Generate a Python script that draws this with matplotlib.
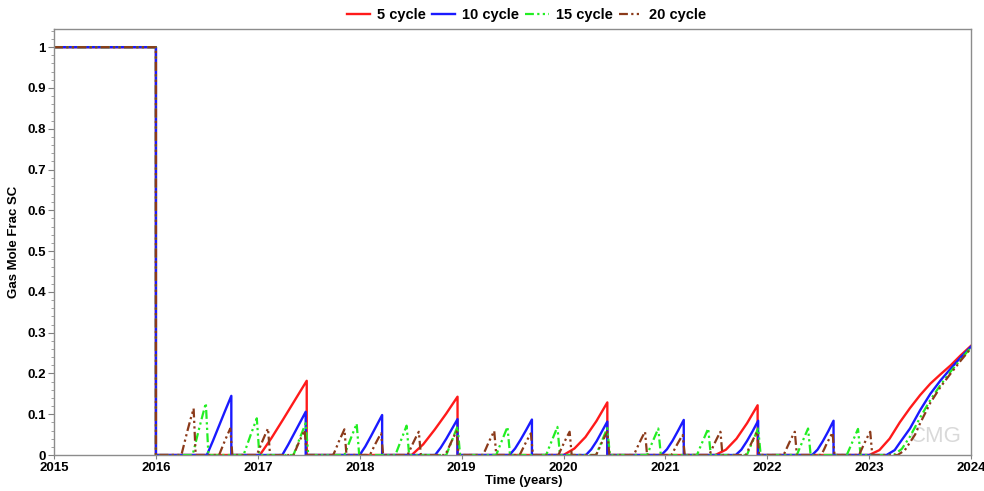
"""
Gas mole fraction at surface conditions for the huff-n-puff cycle cases
"""
import matplotlib
matplotlib.use('Agg')
import matplotlib.pyplot as plt
from matplotlib.ticker import MultipleLocator, FixedLocator

plt.rcParams['font.family'] = ['Liberation Sans', 'DejaVu Sans']
plt.rcParams['font.weight'] = 'bold'

# primary depletion period (all cases identical)
primary_t = [2015.0, 2016.0, 2016.0]
primary_v = [1.0, 1.0, 0.0]

# 5 cycle: production ramps (start, peak time, peak value, values at 1/4, 1/2, 3/4 of the ramp)
red_start = [2017.02, 2018.51, 2020.00, 2021.49]
red_peak_t = [2017.48, 2018.96, 2020.43, 2021.905]
red_peak = [0.182, 0.143, 0.129, 0.122]
red_q1 = [0.042, 0.026, 0.016, 0.013]
red_mid = [0.088, 0.062, 0.044, 0.040]
red_q3 = [0.135, 0.101, 0.083, 0.078]
red_final_t = [2023.00, 2023.10, 2023.20, 2023.30, 2023.40, 2023.50, 2023.60, 2023.70, 2023.80, 2023.90, 2024.00]
red_final_v = [0.0, 0.012, 0.040, 0.080, 0.115, 0.147, 0.175, 0.198, 0.220, 0.245, 0.268]

# 10 cycle
blue_start = [2016.50, 2017.24, 2018.00, 2018.74, 2019.47, 2020.22, 2020.96, 2021.69, 2022.44]
blue_peak_t = [2016.74, 2017.47, 2018.22, 2018.96, 2019.69, 2020.43, 2021.18, 2021.91, 2022.65]
blue_peak = [0.145, 0.106, 0.098, 0.088, 0.087, 0.082, 0.086, 0.084, 0.084]
blue_q1 = [0.035, 0.025, 0.021, 0.018, 0.016, 0.014, 0.014, 0.013, 0.013]
blue_mid = [0.072, 0.052, 0.046, 0.040, 0.038, 0.034, 0.035, 0.034, 0.034]
blue_q3 = [0.109, 0.079, 0.072, 0.064, 0.062, 0.058, 0.060, 0.058, 0.058]
blue_final_t = [2023.17, 2023.25, 2023.30, 2023.40, 2023.50, 2023.60, 2023.70, 2023.80, 2023.90, 2024.00]
blue_final_v = [0.0, 0.012, 0.030, 0.065, 0.110, 0.150, 0.183, 0.212, 0.240, 0.266]

# 15 cycle
green_start = [2016.36, 2016.86, 2017.35, 2017.85, 2018.35, 2018.85, 2019.34, 2019.83, 2020.32,
               2020.82, 2021.31, 2021.80, 2022.29, 2022.78]
green_peak_t = [2016.49, 2016.99, 2017.47, 2017.97, 2018.46, 2018.96, 2019.45, 2019.94, 2020.43,
                2020.93, 2021.42, 2021.91, 2022.40, 2022.89]
green_peak = [0.127, 0.090, 0.078, 0.077, 0.072, 0.070, 0.069, 0.069, 0.066,
              0.065, 0.065, 0.065, 0.065, 0.064]
green_q1 = [0.033, 0.023, 0.020, 0.020, 0.018, 0.018, 0.018, 0.018, 0.017,
            0.017, 0.017, 0.017, 0.017, 0.016]
green_mid = [0.066, 0.046, 0.040, 0.039, 0.036, 0.035, 0.035, 0.035, 0.033,
             0.033, 0.033, 0.033, 0.033, 0.032]
green_q3 = [0.097, 0.068, 0.059, 0.058, 0.054, 0.053, 0.052, 0.052, 0.050,
            0.049, 0.049, 0.049, 0.049, 0.048]
green_final_t = [2023.24, 2023.32, 2023.40, 2023.50, 2023.60, 2023.70, 2023.80, 2023.90, 2024.00]
green_final_v = [0.0, 0.015, 0.045, 0.092, 0.135, 0.172, 0.205, 0.235, 0.264]

# 20 cycle
brown_start = [2016.25, 2016.62, 2016.99, 2017.35, 2017.74, 2018.10, 2018.47, 2018.84, 2019.21,
               2019.57, 2019.95, 2020.32, 2020.69, 2021.06, 2021.43, 2021.79, 2022.16, 2022.53, 2022.90]
brown_peak_t = [2016.37, 2016.73, 2017.10, 2017.46, 2017.85, 2018.21, 2018.58, 2018.95, 2019.32,
                2019.68, 2020.06, 2020.43, 2020.80, 2021.17, 2021.54, 2021.90, 2022.27, 2022.64, 2023.01]
brown_peak = [0.114, 0.065, 0.065, 0.061, 0.063, 0.053, 0.057, 0.058, 0.059,
              0.053, 0.057, 0.057, 0.057, 0.049, 0.057, 0.057, 0.057, 0.055, 0.057]
brown_q1 = [0.030, 0.017, 0.017, 0.016, 0.016, 0.014, 0.015, 0.015, 0.015,
            0.014, 0.015, 0.015, 0.015, 0.013, 0.015, 0.015, 0.015, 0.014, 0.015]
brown_mid = [0.060, 0.034, 0.034, 0.032, 0.033, 0.028, 0.030, 0.030, 0.031,
             0.028, 0.030, 0.030, 0.030, 0.026, 0.030, 0.030, 0.030, 0.029, 0.030]
brown_q3 = [0.088, 0.050, 0.050, 0.047, 0.048, 0.041, 0.044, 0.045, 0.045,
            0.041, 0.044, 0.044, 0.044, 0.038, 0.044, 0.044, 0.044, 0.042, 0.044]
brown_final_t = [2023.28, 2023.35, 2023.45, 2023.50, 2023.60, 2023.70, 2023.80, 2023.90, 2024.00]
brown_final_v = [0.0, 0.012, 0.050, 0.078, 0.128, 0.167, 0.200, 0.232, 0.262]

labels = ['5 cycle', '10 cycle', '15 cycle', '20 cycle']


def build_series(starts, peak_t, peaks, q1, mids, q3, final_t, final_v, drop_lag):
    """primary period, then one ramp per cycle falling back to zero, then the last production"""
    t = list(primary_t)
    v = list(primary_v)
    for s, pt, pv, a, m, b in zip(starts, peak_t, peaks, q1, mids, q3):
        d = pt - s
        t += [s, s + d / 4, s + d / 2, s + 3 * d / 4, pt, pt + drop_lag]
        v += [0.0, a, m, b, pv, 0.0]
    t += final_t
    v += final_v
    return t, v


dash_dot_dot = (0, (4, 1.5, 1, 1.5, 1, 1.5))
series = [
    (build_series(red_start, red_peak_t, red_peak, red_q1, red_mid, red_q3,
                  red_final_t, red_final_v, 0.0),
     dict(color='#ff1a1a', linestyle='-', linewidth=1.7)),
    (build_series(blue_start, blue_peak_t, blue_peak, blue_q1, blue_mid, blue_q3,
                  blue_final_t, blue_final_v, 0.0),
     dict(color='#1a1aff', linestyle='-', linewidth=1.7)),
    (build_series(green_start, green_peak_t, green_peak, green_q1, green_mid, green_q3,
                  green_final_t, green_final_v, 0.025),
     dict(color='#22ee22', linestyle=dash_dot_dot, linewidth=1.6)),
    (build_series(brown_start, brown_peak_t, brown_peak, brown_q1, brown_mid, brown_q3,
                  brown_final_t, brown_final_v, 0.02),
     dict(color='#8b3a1a', linestyle=dash_dot_dot, linewidth=1.6)),
]

fig = plt.figure(figsize=(9.84, 4.91), dpi=100)
ax = fig.add_axes([0.0549, 0.0733, 0.932, 0.868])

handles = []
for (t, v), style in series:
    h, = ax.plot(t, v, **style)
    handles.append(h)

# CMG watermark
ax.text(2023.65, 0.045, 'CMG', fontsize=16, color='#d9d9d9', fontweight='normal',
        ha='center', va='center', zorder=0)

ax.set_xlim(2015, 2024)
ax.set_ylim(0, 1.045)
ax.xaxis.set_major_locator(FixedLocator(range(2015, 2025)))
ax.yaxis.set_major_locator(FixedLocator([i / 10 for i in range(11)]))
ax.yaxis.set_minor_locator(MultipleLocator(0.02))
ax.set_yticklabels(['0'] + [f'{i / 10:.1f}' for i in range(1, 10)] + ['1'])

ax.tick_params(axis='both', labelsize=9.5, width=0.8, color='#808080', pad=2)
ax.tick_params(axis='y', which='major', length=4)
ax.tick_params(axis='y', which='minor', length=2, width=0.6, color='#909090')
ax.tick_params(axis='x', which='major', length=3)
for sp in ax.spines.values():
    sp.set_color('#8c8c8c')
    sp.set_linewidth(1.0)

ax.set_xlabel('Time (years)', fontsize=9.5, fontweight='bold', labelpad=0)
ax.xaxis.set_label_coords(0.512, -0.046)
ax.set_ylabel('Gas Mole Frac SC', fontsize=9.5, fontweight='bold', labelpad=5)

fig.legend(handles, labels, loc='center', bbox_to_anchor=(0.535, 0.969), ncol=4,
           frameon=False, handlelength=1.6, handletextpad=0.5,
           columnspacing=0.4, prop={'weight': 'bold', 'size': 10.5})

plt.savefig('out.png', dpi=100)
